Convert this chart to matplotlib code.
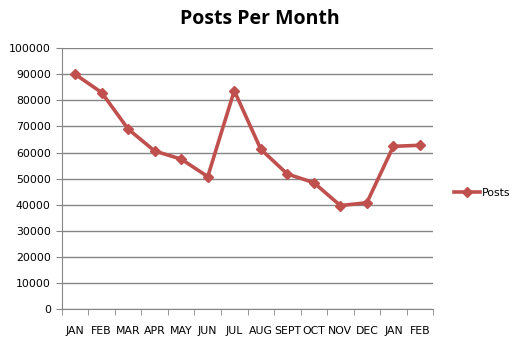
import matplotlib
matplotlib.use("Agg")
import matplotlib.pyplot as plt
import numpy as np

months = ["JAN", "FEB", "MAR", "APR", "MAY", "JUN", "JUL",
          "AUG", "SEPT", "OCT", "NOV", "DEC", "JAN", "FEB"]
posts = [90000, 83000, 69000, 60600, 57500, 50800, 83700,
         61300, 51800, 48500, 39700, 40800, 62400, 62800]
y_ticks = list(range(0, 100001, 10000))


def main():
    fig = plt.figure(figsize=(5.2, 3.44), dpi=100)
    ax = fig.add_axes([0.119, 0.101, 0.714, 0.759])

    x = np.arange(len(months))
    ax.plot(x, posts, color='#C0504D', linewidth=2.6, marker='D',
            markersize=5.5, label='Posts')

    # Axis styling like an office chart
    ax.set_xlim(-0.5, len(months) - 0.5)
    ax.set_ylim(0, 100000)
    ax.set_yticks(y_ticks)
    ax.set_yticklabels([str(v) for v in y_ticks])
    ax.yaxis.grid(True, color='#868686', linewidth=1)
    ax.set_axisbelow(True)

    ax.set_xticks(x)
    ax.set_xticklabels(months)
    ax.set_xticks(np.arange(-0.5, len(months)), minor=True)
    ax.tick_params(axis='x', which='major', length=0, pad=12, labelsize=7.8)
    ax.tick_params(axis='x', which='minor', length=4, color='#868686',
                   direction='out')
    ax.tick_params(axis='y', length=4, color='#868686', labelsize=7.8, pad=4)

    for side in ['top', 'right']:
        ax.spines[side].set_visible(False)
    ax.spines['left'].set_color('#868686')
    ax.spines['bottom'].set_color('#868686')

    fig.text(0.5, 0.945, 'Posts Per Month', ha='center', va='center',
             fontsize=14, fontweight='bold', family='Open Sans')

    ax.legend(loc='center left', bbox_to_anchor=(0.874, 0.44),
              bbox_transform=fig.transFigure, frameon=False,
              borderaxespad=0, borderpad=0,
              fontsize=7.8, handlelength=2.4, handletextpad=0.15)

    fig.savefig('out.png', dpi=100)


if __name__ == '__main__':
    main()
